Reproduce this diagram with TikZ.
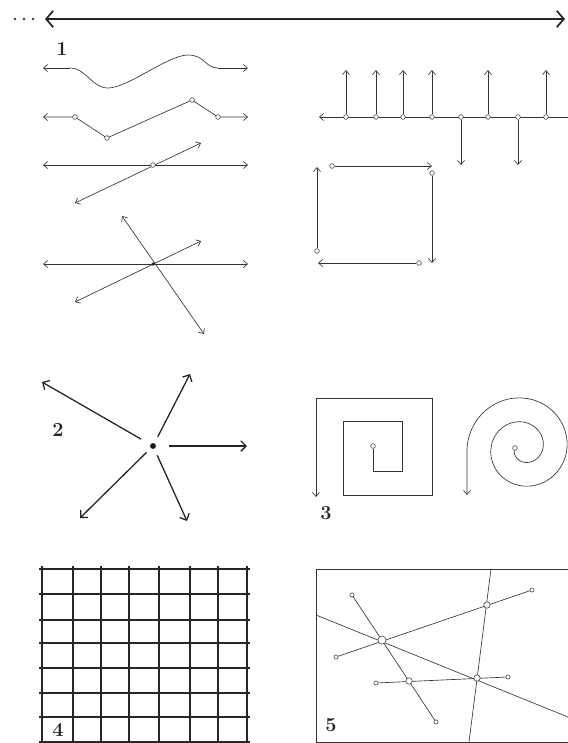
\documentclass[tikz,border=0pt]{standalone}
\usetikzlibrary{arrows.meta}
\begin{document}
\begin{tikzpicture}[
    x=0.03cm, y=-0.03cm,
    pen/.style={draw=black!80, line width=0.55pt},
    ray/.style={pen, -{Straight Barb[length=3.5pt,width=6pt]}},
    both/.style={pen, {Straight Barb[length=3.5pt,width=6pt]}-{Straight Barb[length=3.5pt,width=6pt]}},
    bold ray/.style={draw=black!85, line width=1.1pt, -{Straight Barb[length=4.5pt,width=9pt]}},
    ring/.style={circle, draw=black!75, fill=white, line width=0.5pt, inner sep=0pt, minimum size=4pt},
    knot/.style={ring, minimum size=5.5pt},
    num/.style={font=\fontsize{17}{18}\selectfont\bfseries, text=black!85}
]
\useasboundingbox (0,0) rectangle (568,743);

% die lange Linie oben
\foreach \x in {15,24,33} \fill[black!80] (\x,19) circle (1.2pt);
\draw[draw=black!85, line width=1.5pt, {Straight Barb[length=6pt,width=14pt]}-{Straight Barb[length=6pt,width=14pt]}] (45,19) -- (565,19);

\node[num] (n1) at (62,49) {1};

% aktive Linie
\coordinate (w0) at (70,68);
\coordinate (w1) at (218,68);
\draw[pen] (w0) .. controls (86,68) and (92,88) .. (108,88)
    .. controls (128,88) and (168,55) .. (188,55) .. controls (205,55) and (205,68) .. (w1);
\draw[ray] (w0) -- (43,68);
\draw[ray] (w1) -- (248,68);

% Linie mit Punkten
\coordinate (a1) at (75,117);
\coordinate (a2) at (107,138);
\coordinate (a3) at (192,100);
\coordinate (a4) at (218,117);
\draw[both] (43,117) -- (a1) -- (a2) -- (a3) -- (a4) -- (248,117);
\foreach \p in {a1,a2,a3,a4} \node[ring] at (\p) {};

% zwei Linien, ein Punkt
\draw[both] (43,165) -- (248,165);
\draw[both] (75,203) -- (201,143);
\node[ring] (b1) at (153,165) {};

% drei Linien durch einen Punkt
\draw[both] (43,264) -- (248,264);
\draw[both] (122,216) -- (204,334);
\draw[both] (75,302) -- (201,241);
\node[circle, fill=black!85, inner sep=0pt, minimum size=3pt] (c1) at (153,264) {};

% Linie mit Pfeilen nach oben und unten
\draw[pen, {Straight Barb[length=3.5pt,width=6pt]}-] (319,117) -- (568,117);
\foreach \x in {346,376,403,432,488,546} {
    \node[ring] (u\x) at (\x,117) {};
    \draw[ray] (u\x) -- (\x,70);
}
\foreach \x in {461,518} {
    \node[ring] (d\x) at (\x,117) {};
    \draw[ray] (d\x) -- (\x,165);
}

% Quadrat aus vier Pfeilen
\node[ring] (s1) at (332,166) {};
\node[ring] (s2) at (432,173) {};
\node[ring] (s3) at (419,263) {};
\node[ring] (s4) at (317,251) {};
\draw[ray] (s1) -- (432,166);
\draw[ray] (s2) -- (432,263);
\draw[ray] (s3) -- (318,263);
\draw[ray] (s4) -- (317,167);

% 2: Strahlen aus einem Punkt
\node[num] (n2) at (58,430) {2};
\node[circle, fill=black!90, inner sep=0pt, minimum size=5pt] (hub) at (153,446) {};
\draw[bold ray, shorten <=9pt] (hub) -- (42,382);
\draw[bold ray, shorten <=6pt] (hub) -- (190,374);
\draw[bold ray, shorten <=11pt] (hub) -- (247,446);
\draw[bold ray, shorten <=5pt] (hub) -- (80,518);
\draw[bold ray, shorten <=6pt] (hub) -- (187,521);

% 3: Spiralen
\node[num] (n3) at (326,513) {3};
\node[ring] (q0) at (373,446) {};
\draw[ray] (q0) -- (373,471) -- (402,471) -- (402,421) -- (343,421) -- (343,495)
    -- (432,495) -- (432,398) -- (316,398) -- (316,497);

\draw[ray] plot[domain=-180:540, samples=160, smooth]
    ({523+(26+24*(\x-90)/360)*cos(\x)}, {448-(26+24*(\x-90)/360)*sin(\x)}) -- (467,495);
\node[ring] (r0) at (515,448) {};

% 4: Gitter
\foreach \x in {42,73,101,129,159,190,218,247}
    \draw[draw=black!85, line width=1pt] (\x,566) -- (\x,743);
\foreach \y in {569,594,620,643,668,693,717,742}
    \draw[draw=black!85, line width=1pt] (39,\y) -- (250,\y);
\node[num, fill=white, inner sep=1pt] (n4) at (58,730) {4};

% 5: Linien und Schnittpunkte
\draw[pen] (568,569) -- (316,569) -- (316,742) -- (568,742);
\coordinate (P1) at (382,640);
\coordinate (P2) at (487,605);
\coordinate (P3) at (409,681);
\coordinate (P4) at (477,678);
\draw[pen] (316,615) -- (568,717);
\draw[pen] (491,569) -- (469,742);
\draw[pen] (352,595) -- (436,722);
\draw[pen] (336,657) -- (532,590);
\draw[pen] (376,683) -- (508,677);
\foreach \p in {(352,595),(436,722),(336,657),(532,590),(376,683),(508,677)}
    \node[ring, minimum size=3.5pt] at \p {};
\node[knot, minimum size=7pt] at (P1) {};
\foreach \p in {P2,P3,P4} \node[knot] at (\p) {};
\node[num] (n5) at (331,725) {5};

\end{tikzpicture}
\end{document}
